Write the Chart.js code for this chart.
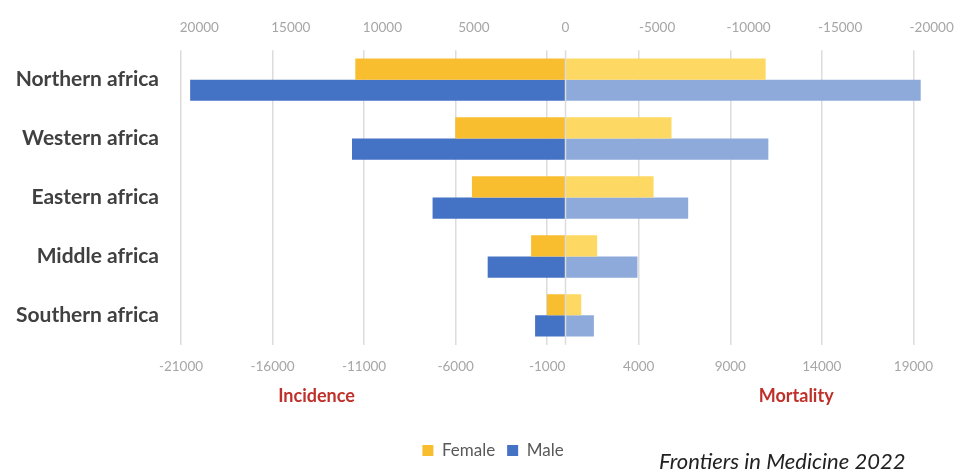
<!DOCTYPE html>
<html>
<head>
<meta charset="utf-8">
<script src="https://cdn.jsdelivr.net/npm/chart.js@4/dist/chart.umd.min.js"></script>
<style>
  html, body { margin: 0; padding: 0; background: #fff; }
  #wrap { position: relative; width: 960px; height: 475px; }
  #credit { position: absolute; left: 659px; top: 447px; font: italic 22px Lato, sans-serif; color: #222; white-space: nowrap; }
</style>
</head>
<body>
<div id="wrap">
  <canvas id="c" width="960" height="475"></canvas>
  <div id="credit">Frontiers in Medicine 2022</div>
</div>
<script>
// Regions of Africa
const regions = ['Northern africa', 'Western africa', 'Eastern africa', 'Middle africa', 'Southern africa'];

// Incidence is plotted to the left (negative), mortality to the right
const femaleIncidence = [-11480, -6020, -5110, -1880, -1010];
const femaleMortality = [10930, 5790, 4810, 1730, 860];
const maleIncidence   = [-20500, -11660, -7260, -4250, -1660];
const maleMortality   = [19400, 11080, 6700, 3930, 1550];

// Axis tick values
const bottomTicks = [-21000, -16000, -11000, -6000, -1000, 4000, 9000, 14000, 19000];
const topTicks    = [20000, 15000, 10000, 5000, 0, -5000, -10000, -15000, -20000];

// Side captions under the bottom axis: [text, position on the value axis]
const sideCaptions = [['Incidence', -13600], ['Mortality', 12600]];

const tickFont = { family: 'Lato', size: 13.5 };
const plain = v => String(v);

const zeroLine = {
  id: 'zeroLine',
  afterDatasetsDraw(chart) {
    const x = chart.scales.x.getPixelForValue(0);
    const { top, bottom } = chart.chartArea;
    const ctx = chart.ctx;
    ctx.save();
    ctx.strokeStyle = '#dcdcdc';
    ctx.lineWidth = 1.5;
    ctx.beginPath();
    ctx.moveTo(x, top);
    ctx.lineTo(x, bottom);
    ctx.stroke();
    ctx.restore();
  }
};

const captions = {
  id: 'captions',
  afterDraw(chart) {
    const ctx = chart.ctx;
    const xs = chart.scales.x;
    ctx.save();
    ctx.fillStyle = '#c0302a';
    ctx.font = 'bold 18px Lato';
    ctx.textAlign = 'center';
    ctx.textBaseline = 'middle';
    sideCaptions.forEach(([text, v]) => ctx.fillText(text, xs.getPixelForValue(v), 396));
    ctx.restore();
  }
};

// nudge the legend a little to the right of centre
const legendShift = {
  id: 'legendShift',
  afterLayout(chart) {
    if (chart.legend) { chart.legend.left += 16; chart.legend.right += 16; }
  }
};

// keep the value axes edge to edge with the plot area
const noEdgePadding = s => { s.paddingLeft = 0; s.paddingRight = 0; };

function draw() {
  new Chart(document.getElementById('c'), {
    type: 'bar',
    data: {
      labels: regions,
      datasets: [
        { label: 'Female', data: femaleIncidence, backgroundColor: '#f8be30', stack: 'female' },
        { label: 'Female', data: femaleMortality, backgroundColor: '#fdd862', stack: 'female' },
        { label: 'Male',   data: maleIncidence,   backgroundColor: '#4472c4', stack: 'male' },
        { label: 'Male',   data: maleMortality,   backgroundColor: '#8eaadb', stack: 'male' }
      ]
    },
    options: {
      indexAxis: 'y',
      responsive: false,
      animation: false,
      categoryPercentage: 0.72,
      barPercentage: 1.0,
      layout: { padding: { left: 4, right: 10, top: 6, bottom: 6 } },
      scales: {
        x: {
          type: 'linear',
          position: 'bottom',
          min: -21000,
          max: 21000,
          stacked: true,
          afterBuildTicks: s => { s.ticks = bottomTicks.map(v => ({ value: v })); },
          afterFit: s => { s.height += 41; noEdgePadding(s); },
          grid: { color: '#dcdcdc', lineWidth: 1.5, drawTicks: false },
          border: { display: false },
          ticks: { color: '#a6a6a6', font: tickFont, padding: 14, callback: plain }
        },
        x2: {
          type: 'linear',
          position: 'top',
          reverse: true,
          min: -21000,
          max: 21000,
          afterBuildTicks: s => { s.ticks = topTicks.map(v => ({ value: v })); },
          afterFit: noEdgePadding,
          grid: { display: false, drawTicks: false },
          border: { display: false },
          ticks: { color: '#a6a6a6', font: tickFont, padding: 14, callback: plain }
        },
        y: {
          stacked: true,
          afterFit: s => { s.width = 177; },
          grid: { display: false, drawTicks: false },
          border: { display: false },
          ticks: { color: '#404040', font: { family: 'Lato', size: 21, weight: 'bold' }, padding: 22 }
        }
      },
      plugins: {
        legend: {
          position: 'bottom',
          labels: {
            filter: item => item.datasetIndex === 0 || item.datasetIndex === 2,
            boxWidth: 11,
            boxHeight: 11,
            color: '#595959',
            font: { family: 'Lato', size: 17 },
            padding: 12
          }
        },
        tooltip: { enabled: false }
      }
    },
    plugins: [zeroLine, captions, legendShift]
  });
}

Promise.all([
  document.fonts.load('bold 21px Lato'),
  document.fonts.load('13.5px Lato'),
  document.fonts.load('17px Lato'),
  document.fonts.load('italic 22px Lato')
]).then(draw, draw);
</script>
</body>
</html>
